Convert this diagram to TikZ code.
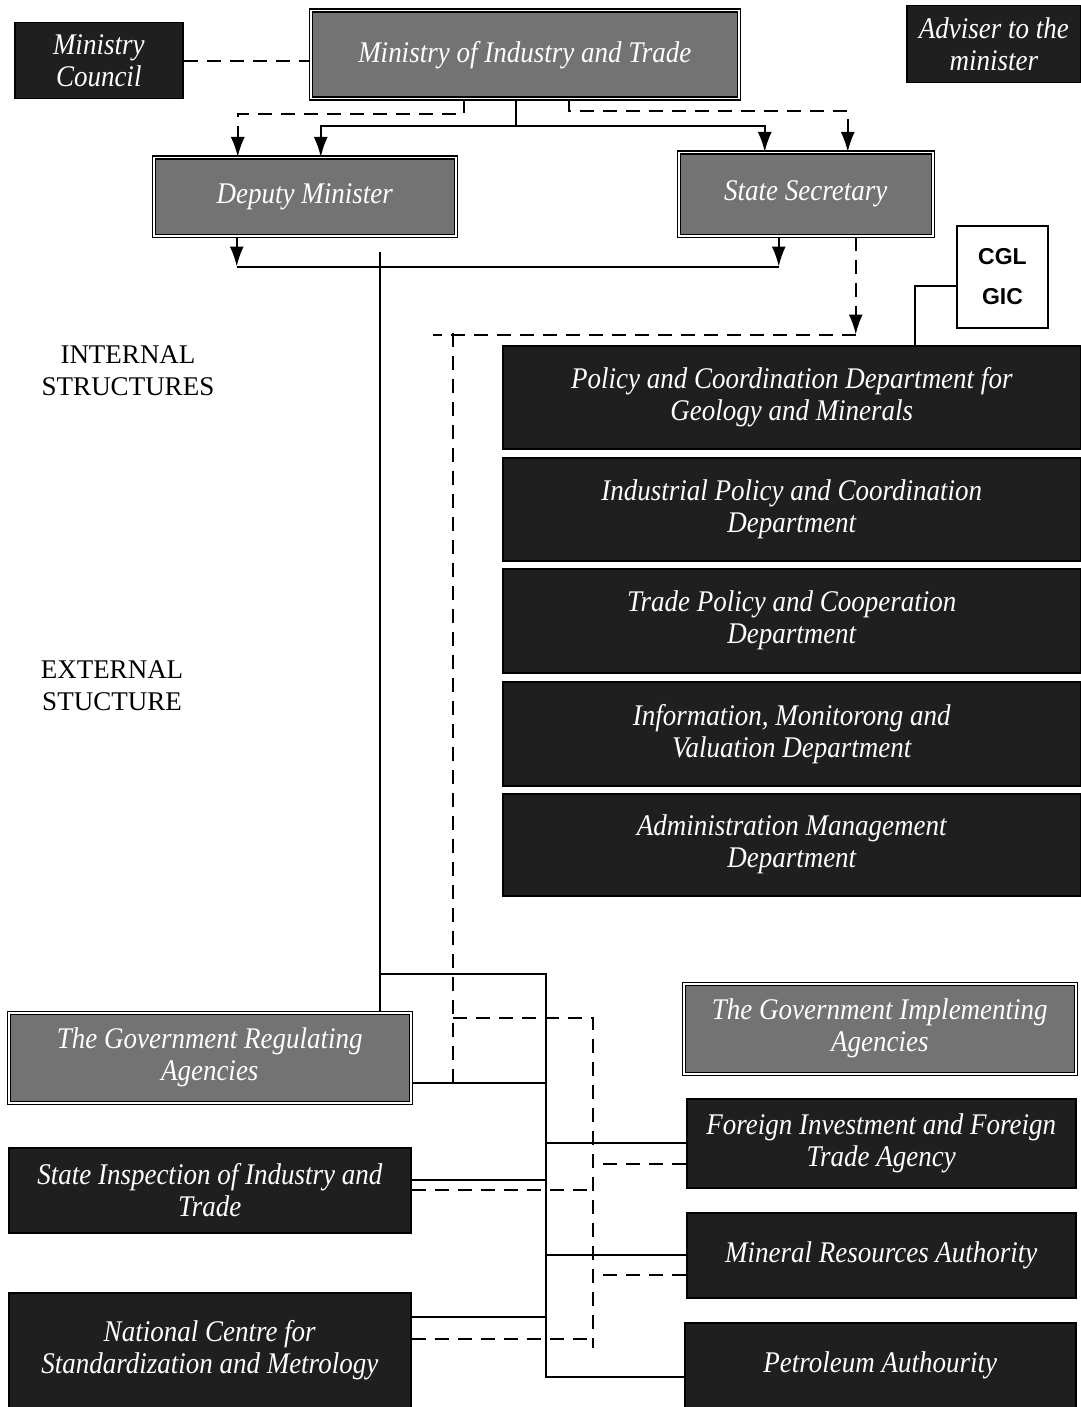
\documentclass[tikz,border=0pt]{standalone}
\usepackage{fontspec}
\setmainfont{Liberation Serif}
\newfontfamily\boxfamily{Liberation Serif}[FakeStretch=0.9]
\newfontfamily\tagfamily{Liberation Sans}
\usetikzlibrary{arrows.meta}

\begin{document}
\begin{tikzpicture}[x=1pt,y=-1pt,
  >={Latex[length=20pt,width=14pt]},
  darkbox/.style={draw=black,line width=1.5pt,fill=black!88,text=white,anchor=north west,
    align=center,inner sep=2pt,font=\boxfamily\itshape\fontsize{30}{32}\selectfont},
  greybox/.style={darkbox,fill=black!55,double=white,double distance=1.5pt},
  tagbox/.style={draw=black,line width=2pt,fill=white,anchor=north west,align=center,
    font=\tagfamily\bfseries\fontsize{23}{40}\selectfont},
  side/.style={align=center,font=\fontsize{27}{32}\selectfont},
  link/.style={line width=2pt},
  dlink/.style={line width=2pt,dash pattern=on 14pt off 9pt}]
\useasboundingbox (0,0) rectangle (1080,1407);

% top of the ministry
\node[darkbox,minimum width=168pt,minimum height=76pt] (council) at (14,22) {Ministry\\Council};
\node[greybox,minimum width=428pt,minimum height=88pt] (ministry) at (310,10) {Ministry of Industry and Trade};
\node[darkbox,minimum width=174pt,minimum height=77pt] (adviser) at (906,5) {Adviser to the\\minister};
\node[greybox,minimum width=302pt,minimum height=78pt] (deputy) at (153,157) {Deputy Minister};
\node[greybox,minimum width=254pt,minimum height=83pt] (secretary) at (678,152) {State Secretary};
\node[tagbox,minimum width=91pt,minimum height=102pt] (cgl) at (956,225) {CGL\\GIC};

% departments
\node[darkbox,minimum width=578pt,minimum height=103pt] (policy) at (502,345) {Policy and Coordination Department for\\Geology and Minerals};
\node[darkbox,minimum width=578pt,minimum height=103pt] (industrial) at (502,457) {Industrial Policy and Coordination\\Department};
\node[darkbox,minimum width=578pt,minimum height=104pt] (tradepol) at (502,568) {Trade Policy and Cooperation\\Department};
\node[darkbox,minimum width=578pt,minimum height=104pt] (information) at (502,681) {Information, Monitorong and\\Valuation Department};
\node[darkbox,minimum width=578pt,minimum height=102pt] (admin) at (502,793) {Administration Management\\Department};

\node[side] (internal) at (128,371) {INTERNAL\\STRUCTURES};
\node[side] (external) at (112,686) {EXTERNAL\\STUCTURE};

% agencies
\node[greybox,minimum width=402pt,minimum height=90pt] (regulating) at (8,1012) {The Government Regulating\\Agencies};
\node[darkbox,minimum width=402pt,minimum height=85pt] (inspection) at (8,1147) {State Inspection of Industry and\\Trade};
\node[darkbox,minimum width=402pt,minimum height=115pt] (national) at (8,1292) {National Centre for\\Standardization and Metrology};
\node[greybox,minimum width=392pt,minimum height=90pt] (implementing) at (683,983) {The Government Implementing\\Agencies};
\node[darkbox,minimum width=389pt,minimum height=89pt] (foreign) at (686,1098) {Foreign Investment and Foreign\\Trade Agency};
\node[darkbox,minimum width=389pt,minimum height=85pt] (mineral) at (686,1212) {Mineral Resources Authority};
\node[darkbox,minimum width=391pt,minimum height=85pt] (petroleum) at (684,1322) {Petroleum Authourity};

\coordinate (stop) at (380,252);
\coordinate (sknee) at (380,974);
\coordinate (sbus) at (546,974);
\coordinate (dtop) at (453,333);
\coordinate (dlow) at (453,1092);
\coordinate (dknee) at (453,1018);
\coordinate (dbus) at (593,1018);
\coordinate (dbusend) at (593,1348);

\draw[dlink] (council.east) -- (council.east -| ministry.west);
\draw[dlink,->] ([xshift=-61pt]ministry.south) -- ++(0,15) -| ([xshift=-67pt]deputy.north);
\draw[link] ([xshift=-9pt]ministry.south) -- ++(0,27) coordinate (split);
\draw[link,->] (split) -| ([xshift=16pt]deputy.north);
\draw[link,->] (split) -| ([xshift=-41pt]secretary.north);
\draw[dlink,->] ([xshift=44pt]ministry.south) -- ++(0,12) -| ([xshift=42pt]secretary.north);

\draw[link,->] ([xshift=-68pt]deputy.south) -- ++(0,30) coordinate (dsplit);
\draw[link,->] ([xshift=-27pt]secretary.south) -- ++(0,30) coordinate (ssplit);
\draw[link] (dsplit) -- (ssplit);
\draw[dlink,->] ([xshift=50pt]secretary.south) -- ++(0,98) coordinate (dhub);
\draw[dlink] (dhub) -- ++(-423,0);
\draw[link] ([yshift=-9pt]cgl.west) -| ([xshift=123pt]policy.north);

% lines to the agencies
\draw[link] (stop) -- (stop |- regulating.north);
\draw[link] (sknee) -- (sbus) |- ([yshift=-12pt]petroleum.west);
\draw[link] ([yshift=-25pt]regulating.east) -- ([yshift=-25pt]regulating.east -| sbus);
\draw[link] ([yshift=10pt]inspection.east) -- ([yshift=10pt]inspection.east -| sbus);
\draw[link] ([yshift=33pt]national.east) -- ([yshift=33pt]national.east -| sbus);
\draw[link] (foreign.west) -- (foreign.west -| sbus);
\draw[link] (mineral.west) -- (mineral.west -| sbus);

\draw[dlink] (dtop) -- (dlow);
\draw[dlink] (dknee) -- (dbus) -- (dbusend);
\draw[dlink] (inspection.east) -- (inspection.east -| dbus);
\draw[dlink] ([yshift=11pt]national.east) -- ([yshift=11pt]national.east -| dbus);
\draw[dlink] ([yshift=-21pt]foreign.west) -- ([yshift=-21pt]foreign.west -| dbus);
\draw[dlink] ([yshift=-20pt]mineral.west) -- ([yshift=-20pt]mineral.west -| dbus);
\end{tikzpicture}
\end{document}
